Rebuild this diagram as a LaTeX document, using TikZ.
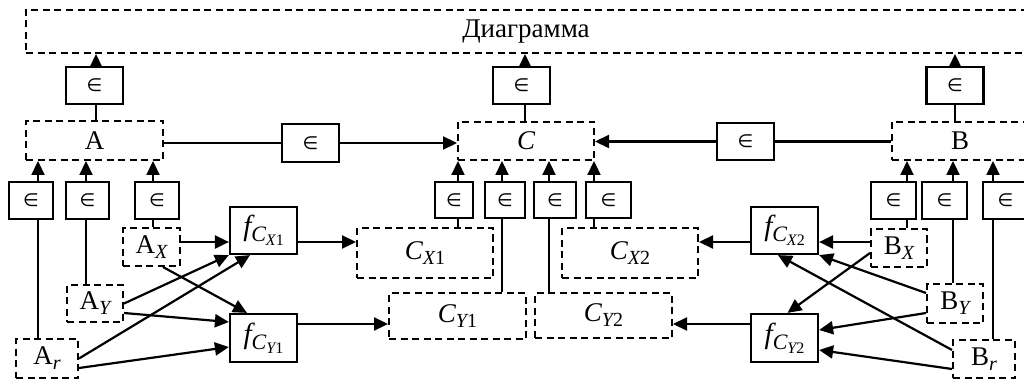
\documentclass[tikz,border=0pt]{standalone}
\usepackage{fontspec}
\setmainfont{Liberation Serif}
\newfontfamily\symfont{DejaVu Sans}
\usetikzlibrary{arrows.meta}

\newcommand\elt{\symfont\char"2208}
% label sizes: main text, first- and second-level subscripts
\newcommand\mainsize{\fontsize{27}{30}\selectfont}
\newcommand\subA[1]{\raisebox{-5pt}{\fontsize{20}{20}\selectfont #1}}
\newcommand\subB[1]{\raisebox{-4pt}{\fontsize{15}{15}\selectfont #1}}
% mapping labels f_{C_{..}}
\newcommand\fmap[2]{{\fontsize{29}{30}\selectfont\itshape f}\raisebox{-6pt}{\fontsize{22}{22}\selectfont\itshape C\raisebox{-4pt}{\fontsize{16}{16}\selectfont #1\upshape #2}}}

\begin{document}
\begin{tikzpicture}[x=1pt,y=-1pt,
  wh/.style 2 args={minimum width=#1pt, minimum height=#2pt},
  solidbox/.style={draw, line width=2.2pt, fill=white, inner sep=0pt, font=\mainsize},
  dbox/.style={draw, line width=2pt, dash pattern=on 7pt off 4.5pt, inner sep=0pt, font=\mainsize},
  elem/.style={draw, line width=2.2pt, fill=white, inner sep=0pt, font=\fontsize{18}{20}\selectfont},
  link/.style={line width=2.2pt},
  arr/.style={link, -{Triangle[length=14pt,width=13pt]}},
]
\useasboundingbox (0,0) rectangle (1024,379);
\fill[white] (0,0) rectangle (1024,379);
\clip (0,0) rectangle (1024,379);

% ---- top level
\node[dbox, wh={1014}{43}] (top) at (533,31.5) {\hspace*{-14pt}Диаграмма};
\node[elem, wh={57}{37}] (eT1) at (94.5,85.5) {\elt};
\node[elem, wh={57}{37}] (eT2) at (521.5,85.5) {\elt};
\node[elem, wh={57}{37}] (eT3) at (955,85.5) {\elt};

% ---- middle level
\node[dbox, wh={137}{39}] (A) at (94.5,140.5) {A};
\node[dbox, wh={136}{38}] (C) at (526,141) {\itshape C};
\node[dbox, wh={136}{38}] (B) at (960,141) {B};
\node[elem, wh={57}{38}] (eAC) at (310.5,143) {\elt};
\node[elem, wh={57}{37}] (eBC) at (745.5,141.5) {\elt};

% ---- membership boxes under A, C, B
\node[elem, wh={44}{37}] (eA1) at (31,200.5) {\elt};
\node[elem, wh={43}{37}] (eA2) at (87.5,200.5) {\elt};
\node[elem, wh={44}{37}] (eA3) at (157,200.5) {\elt};
\node[elem, wh={38}{36}] (eC1) at (454,200) {\elt};
\node[elem, wh={40}{36}] (eC2) at (505,200) {\elt};
\node[elem, wh={42}{36}] (eC3) at (555,200) {\elt};
\node[elem, wh={45}{36}] (eC4) at (608.5,200) {\elt};
\node[elem, wh={45}{37}] (eB1) at (893.5,200.5) {\elt};
\node[elem, wh={45}{37}] (eB2) at (944.5,200.5) {\elt};
\node[elem, wh={45}{37}] (eB3) at (1005.5,200.5) {\elt};

% ---- parts of A
\node[dbox, wh={57}{38}] (AX) at (151.5,247) {A\subA{\itshape X}};
\node[dbox, wh={56}{37}] (AY) at (95,303.5) {A\subA{\itshape Y}};
\node[dbox, wh={62}{39}] (Ar) at (47,358.5) {A\subA{\itshape r}};

% ---- parts of B
\node[dbox, wh={56}{38}] (BX) at (899,248) {B\subA{\itshape X}};
\node[dbox, wh={56}{39}] (BY) at (955,303.5) {B\subA{\itshape Y}};
\node[dbox, wh={62}{38}] (Br) at (984,359) {B\subA{\itshape r}};

% ---- mappings
\node[solidbox, wh={67}{47}] (fX1) at (263.5,230.5) {\fmap{X}{1}};
\node[solidbox, wh={67}{48}] (fY1) at (263.5,338) {\fmap{Y}{1}};
\node[solidbox, wh={67}{47}] (fX2) at (784.5,230.5) {\fmap{X}{2}};
\node[solidbox, wh={67}{48}] (fY2) at (784.5,338) {\fmap{Y}{2}};

% ---- parts of C
\node[dbox, wh={136}{50}] (CX1) at (425,253) {{\itshape C}\subA{\itshape X\upshape 1}};
\node[dbox, wh={137}{46}] (CY1) at (457.5,316) {{\itshape C}\subA{\itshape Y\upshape 1}};
\node[dbox, wh={137}{45}] (CY2) at (603.5,315.5) {{\itshape C}\subA{\itshape Y\upshape 2}};
\node[dbox, wh={136}{50}] (CX2) at (630,253) {{\itshape C}\subA{\itshape X\upshape 2}};

% ---- x positions of the vertical membership links
\coordinate (xT1) at (96,0);
\coordinate (xT2) at (525,0);
\coordinate (xT3) at (955,0);
\coordinate (xA1) at (38,0);
\coordinate (xA2) at (86,0);
\coordinate (xA3) at (153,0);
\coordinate (xC1) at (458,0);
\coordinate (xC2) at (502,0);
\coordinate (xC3) at (549,0);
\coordinate (xC4) at (594,0);
\coordinate (xB1) at (907,0);
\coordinate (xB2) at (953,0);
\coordinate (xB3) at (993,0);

% A, C, B belong to the diagram
\draw[link] (A.north -| xT1) -- (eT1.south -| xT1);
\draw[arr]  (eT1.north -| xT1) -- (top.south -| xT1);
\draw[link] (C.north -| xT2) -- (eT2.south -| xT2);
\draw[arr]  (eT2.north -| xT2) -- (top.south -| xT2);
\draw[link] (B.north -| xT3) -- (eT3.south -| xT3);
\draw[arr]  (eT3.north -| xT3) -- (top.south -| xT3);

% A and B belong to C
\draw[link] (A.east |- eAC.west) -- (eAC.west);
\draw[arr]  (eAC.east) -- (C.west |- eAC.east);
\draw[link] (B.west |- eBC.east) -- (eBC.east);
\draw[arr]  (eBC.west) -- (C.east |- eBC.west);

% parts of A
\draw[link] (Ar.north -| xA1) -- (eA1.south -| xA1);
\draw[arr]  (eA1.north -| xA1) -- (A.south -| xA1);
\draw[link] (AY.north -| xA2) -- (eA2.south -| xA2);
\draw[arr]  (eA2.north -| xA2) -- (A.south -| xA2);
\draw[link] (AX.north -| xA3) -- (eA3.south -| xA3);
\draw[arr]  (eA3.north -| xA3) -- (A.south -| xA3);

% parts of C
\draw[link] (CX1.north -| xC1) -- (eC1.south -| xC1);
\draw[arr]  (eC1.north -| xC1) -- (C.south -| xC1);
\draw[link] (CY1.north -| xC2) -- (eC2.south -| xC2);
\draw[arr]  (eC2.north -| xC2) -- (C.south -| xC2);
\draw[link] (CY2.north -| xC3) -- (eC3.south -| xC3);
\draw[arr]  (eC3.north -| xC3) -- (C.south -| xC3);
\draw[link] (CX2.north -| xC4) -- (eC4.south -| xC4);
\draw[arr]  (eC4.north -| xC4) -- (C.south -| xC4);

% parts of B
\draw[link] (BX.north -| xB1) -- (eB1.south -| xB1);
\draw[arr]  (eB1.north -| xB1) -- (B.south -| xB1);
\draw[link] (BY.north -| xB2) -- (eB2.south -| xB2);
\draw[arr]  (eB2.north -| xB2) -- (B.south -| xB2);
\draw[link] (Br.north -| xB3) -- (eB3.south -| xB3);
\draw[arr]  (eB3.north -| xB3) -- (B.south -| xB3);

% inputs of the left mappings
\draw[arr] ([yshift=5pt]AX.east) -- ([yshift=-11.5pt]fX1.west);
\draw[arr] ([xshift=11.5pt]AX.south) -- ([xshift=-16.5pt]fY1.north);
\draw[arr] (AY.east) -- (fX1.south west);
\draw[arr] (Ar.east) -- ([xshift=-13.5pt]fX1.south);
\draw[arr] ([yshift=-9.5pt]AY.east) -- ([yshift=16pt]fY1.west);
\draw[arr] ([yshift=-9.5pt]Ar.east) -- ([yshift=-9pt]fY1.west);

% outputs of the mappings
\draw[arr] ([yshift=-11.5pt]fX1.east) -- ([yshift=11pt]CX1.west);
\draw[arr] ([yshift=14pt]fY1.east) -- ([yshift=-8pt]CY1.west);
\draw[arr] ([yshift=-11.5pt]fX2.west) -- ([yshift=11pt]CX2.east);
\draw[arr] ([yshift=14pt]fY2.west) -- ([yshift=-8.5pt]CY2.east);

% inputs of the right mappings
\draw[arr] ([yshift=6pt]BX.west) -- ([yshift=-11.5pt]fX2.east);
\draw[arr] ([yshift=-5pt]BX.west) -- ([xshift=3pt]fY2.north);
\draw[arr] ([yshift=10.5pt]BY.west) -- (fX2.south east);
\draw[arr] ([yshift=9pt]Br.west) -- ([xshift=-6.5pt]fX2.south);
\draw[arr] ([yshift=-9.5pt]BY.west) -- ([yshift=8pt]fY2.east);
\draw[arr] ([yshift=-10pt]Br.west) -- ([yshift=-12pt]fY2.east);
\end{tikzpicture}
\end{document}
